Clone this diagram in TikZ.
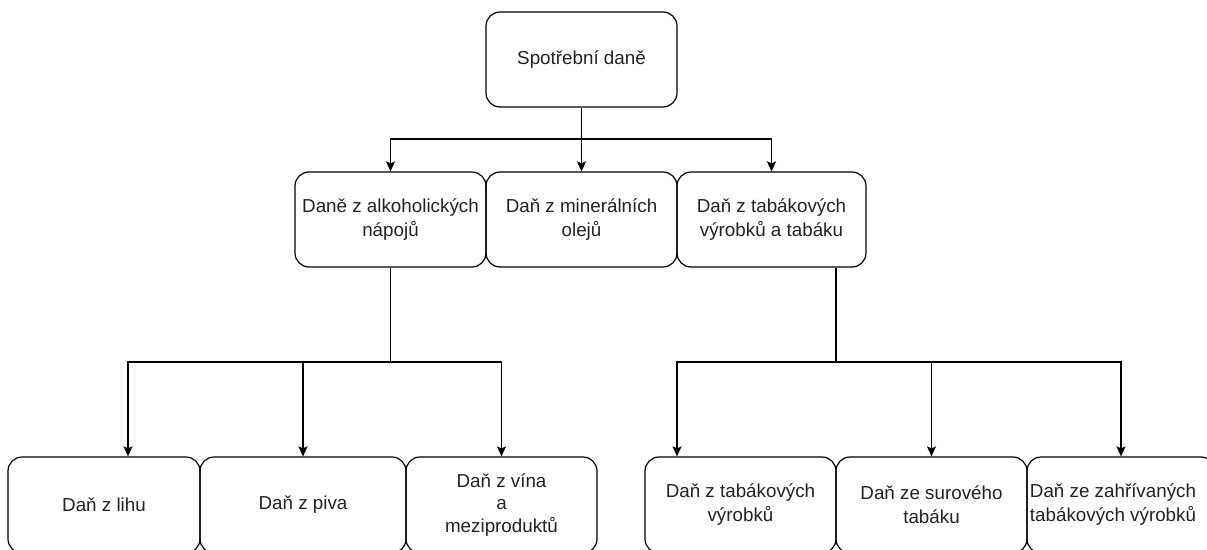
\documentclass[tikz,border=0pt]{standalone}
\usepackage{fontspec}
\setmainfont{Liberation Sans}
\usetikzlibrary{arrows.meta}
\definecolor{txt}{HTML}{222222}
\begin{document}
\begin{tikzpicture}[x=1pt,y=-1pt,
  box/.style={draw=black, line width=1.2pt, rounded corners=14pt,
    minimum width=#1, minimum height=95pt, inner sep=0pt, align=center,
    font=\fontsize{18.8}{24}\selectfont, text=txt},
  lbl/.style={inner sep=0pt, align=center, font=\fontsize{18.8}{24}\selectfont, text=txt},
  conn/.style={draw=black, line width=1.5pt},
  arr/.style={conn, -{Stealth[length=10pt,width=9pt,inset=2pt]}}]
\useasboundingbox (0,0) rectangle (1207,549);
\clip (0,0) rectangle (1207,549);
% top
\node[box=191pt] (top) at (581.5,59.5) {Spotřební daně};
% middle
\node[box=191pt] (m1) at (390.5,219.5) {Daně z alkoholických\\nápojů};
\node[box=191pt] (m2) at (581.5,219.5) {Daň z minerálních\\olejů};
\node[box=189pt] (m3) at (771.5,219.5) {Daň z tabákových\\výrobků a tabáku};
% bottom left
\node[box=192pt, minimum height=96pt] (L1) at (104,505) {Daň z lihu};
\node[box=206pt, minimum height=96pt] (L2) at (303,505) {Daň z piva};
\node[box=191pt, minimum height=96pt, font=\fontsize{18.8}{22.5}\selectfont] (L3) at (501.5,505) {Daň z vína\\a\\meziproduktů};
% bottom right
\node[box=191pt, minimum height=96pt] (R1) at (740.5,505) {Daň z tabákových\\výrobků};
\node[box=191pt, minimum height=96pt] (R2) at (931.5,505) {Daň ze surového\\tabáku};
\node[box=188pt, minimum height=96pt] (R3) at (1121,505) {};
\node[lbl] (R3t) at (1113,505) {Daň ze zahřívaných\\tabákových výrobků};
% connectors top
\coordinate (j0) at (581.5,139);
\draw[conn] (top.south) -- (j0);
\draw[arr] (j0) -| (m1.north);
\draw[arr] (j0) -- (m2.north);
\draw[arr] (j0) -| (m3.north);
% left group
\coordinate (jL) at (390.5,362);
\coordinate (x128) at (128,0);
\coordinate (aL1) at (L1.north -| x128);
\draw[conn] (m1.south) -- (jL);
\draw[arr] (jL) -| (aL1);
\draw[arr] (jL) -| (L2.north);
\draw[arr] (jL) -| (L3.north);
% right group
\coordinate (x836) at (836,0);
\coordinate (x677) at (677,0);
\coordinate (sR) at (m3.south -| x836);
\coordinate (jR) at (836,362);
\coordinate (aR1) at (R1.north -| x677);
\draw[conn] (sR) -- (jR);
\draw[arr] (jR) -| (aR1);
\draw[arr] (jR) -| (R2.north);
\draw[arr] (jR) -| (R3.north);
\end{tikzpicture}
\end{document}
